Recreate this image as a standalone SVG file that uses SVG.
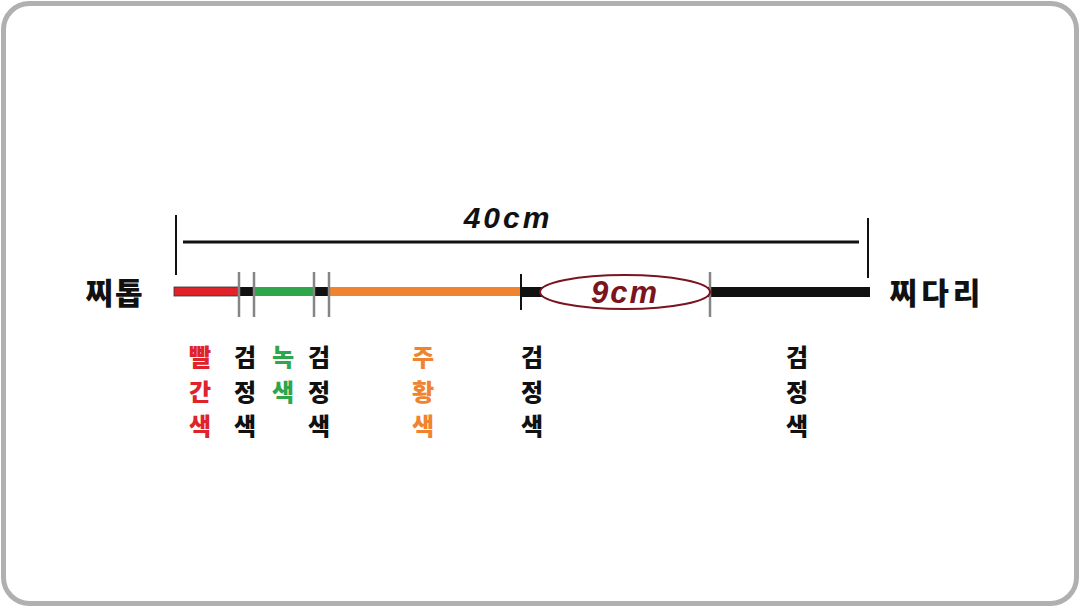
<svg xmlns="http://www.w3.org/2000/svg" width="1080" height="607" viewBox="0 0 1080 607">
<style>
.t{font-family:"Noto Sans CJK KR","Noto Sans",sans-serif;font-weight:900;text-anchor:middle;dominant-baseline:central}
.lbl{font-size:24px}
.blk{fill:#111}
.red{fill:#e0232b}
.grn{fill:#2ea64c}
.org{fill:#f0832f}
.num{font-family:"Liberation Sans","Noto Sans",sans-serif;font-weight:bold;font-style:italic}
.gtick{stroke:#858585;stroke-width:2.5}
.btick{stroke:#111;stroke-width:2}
</style>
<rect x="3.5" y="3.5" width="1073" height="600" rx="26" fill="#fff" stroke="#b0b0b0" stroke-width="5"/>
<g id="connectors">
<line x1="176" y1="215" x2="176" y2="275" class="btick"/>
<line x1="868" y1="218" x2="868" y2="278" class="btick"/>
<line x1="183" y1="242" x2="859" y2="242" stroke="#111" stroke-width="3"/>
</g>
<g id="bar">
<rect x="174" y="287" width="65" height="9" fill="#e0232b" stroke="#333" stroke-width="0.8"/>
<rect x="239" y="287" width="15" height="9" fill="#111"/>
<rect x="254" y="287" width="60" height="9" fill="#2ea64c"/>
<rect x="314" y="287" width="15" height="9" fill="#111"/>
<rect x="329" y="287" width="192" height="9" fill="#f0832f"/>
<rect x="521" y="287" width="25" height="10" fill="#111"/>
<rect x="705" y="287" width="165" height="10" fill="#111"/>
<line x1="239" y1="272" x2="239" y2="317" class="gtick"/>
<line x1="254" y1="272" x2="254" y2="317" class="gtick"/>
<line x1="314" y1="272" x2="314" y2="317" class="gtick"/>
<line x1="329" y1="272" x2="329" y2="317" class="gtick"/>
<line x1="710" y1="272" x2="710" y2="317" class="gtick"/>
<line x1="521" y1="274" x2="521" y2="310" class="btick"/>
</g>
<g id="ellipse9">
<ellipse cx="625" cy="292" rx="85" ry="17" fill="#fff" stroke="#7a1420" stroke-width="2"/>
<text x="625" y="292" class="t num" font-size="31" letter-spacing="2" fill="#7a1420">9cm</text>
</g>
<g id="label40">
<text x="508" y="217" class="t num" font-size="30" letter-spacing="3" fill="#111">40cm</text>
</g>
<g id="left"><text x="115" y="291" class="t blk" font-size="30" letter-spacing="2">찌톱</text></g>
<g id="right"><text x="937" y="291" class="t blk" font-size="30" letter-spacing="4">찌다리</text></g>
<g id="col-red" class="t lbl red">
<text x="200" y="355">빨</text><text x="200" y="390">간</text><text x="200" y="424">색</text>
</g>
<g id="col-black1" class="t lbl blk">
<text x="245" y="355">검</text><text x="245" y="390">정</text><text x="245" y="424">색</text>
</g>
<g id="col-green" class="t lbl grn">
<text x="283" y="355">녹</text><text x="283" y="390">색</text>
</g>
<g id="col-black2" class="t lbl blk">
<text x="319" y="355">검</text><text x="319" y="390">정</text><text x="319" y="424">색</text>
</g>
<g id="col-orange" class="t lbl org">
<text x="423" y="355">주</text><text x="423" y="390">황</text><text x="423" y="424">색</text>
</g>
<g id="col-black3" class="t lbl blk">
<text x="532" y="355">검</text><text x="532" y="390">정</text><text x="532" y="424">색</text>
</g>
<g id="col-black4" class="t lbl blk">
<text x="797" y="355">검</text><text x="797" y="390">정</text><text x="797" y="424">색</text>
</g>
</svg>
